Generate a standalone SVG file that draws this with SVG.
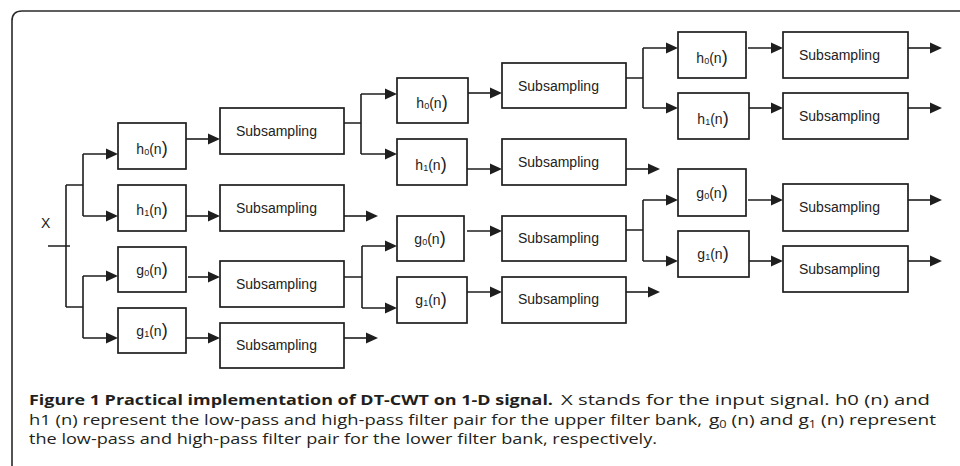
<svg xmlns="http://www.w3.org/2000/svg" width="960" height="466" viewBox="0 0 960 466">
<style>
.bg{fill:#ffffff}
.frame{fill:none;stroke:#2a2a2a;stroke-width:1.6}
.box{fill:#ffffff;stroke:#1e1e1e;stroke-width:1.7}
.ln{fill:none;stroke:#1e1e1e;stroke-width:1.6}
.arr{marker-end:url(#ah)}
.lbl{font-family:"Liberation Sans",Arial,sans-serif;font-size:14px;fill:#222222}
.flt{font-family:"Liberation Sans",Arial,sans-serif;font-size:14px;fill:#222222;text-anchor:middle}
.cap{font-family:"Open Sans","Noto Sans","Liberation Sans",sans-serif;font-size:15px;fill:#231f20}
.capb{font-family:"Open Sans","Noto Sans","Liberation Sans",sans-serif;font-size:15px;font-weight:700;fill:#231f20}
</style>
<defs>
<marker id="ah" markerUnits="userSpaceOnUse" markerWidth="12" markerHeight="11" refX="10" refY="5.5" orient="auto" overflow="visible">
<path d="M0,0 L12,5.5 L0,11 Z" fill="#1e1e1e"/>
</marker>
</defs>
<rect class="bg" x="0" y="0" width="960" height="466"/>
<path class="frame" d="M12,466 V21 Q12,11 22,11 H960"/>

<g id="connectors">
<path class="ln" d="M48,246 H70 M66,185 V307 M66,185 H83 M83,154 V216 M66,307 H83 M83,276 V338"/>
<path class="ln arr" d="M83,154 H116"/>
<path class="ln arr" d="M83,216 H116"/>
<path class="ln arr" d="M83,276 H116"/>
<path class="ln arr" d="M83,338 H116"/>
<path class="ln arr" d="M186,139 H218"/>
<path class="ln arr" d="M186,216 H218"/>
<path class="ln arr" d="M188,277 H218"/>
<path class="ln arr" d="M186,338 H218"/>
<path class="ln" d="M344,123 H361 M361,94 V154 M344,277 H362 M362,246 V308"/>
<path class="ln arr" d="M361,94 H395"/>
<path class="ln arr" d="M361,154 H395"/>
<path class="ln arr" d="M344,216 H376"/>
<path class="ln arr" d="M362,246 H395"/>
<path class="ln arr" d="M362,308 H395"/>
<path class="ln arr" d="M344,338 H376"/>
<path class="ln arr" d="M468,93 H500"/>
<path class="ln arr" d="M467,169 H500"/>
<path class="ln arr" d="M467,231 H500"/>
<path class="ln arr" d="M467,292 H500"/>
<path class="ln" d="M626,78 H643 M643,48 V108 M626,230 H643 M643,200 V261"/>
<path class="ln arr" d="M643,48 H676"/>
<path class="ln arr" d="M643,108 H676"/>
<path class="ln arr" d="M626,169 H658"/>
<path class="ln arr" d="M643,200 H676"/>
<path class="ln arr" d="M643,261 H676"/>
<path class="ln arr" d="M626,292 H658"/>
<path class="ln arr" d="M748,48 H781"/>
<path class="ln arr" d="M749,108 H781"/>
<path class="ln arr" d="M748,200 H781"/>
<path class="ln arr" d="M749,261 H781"/>
<path class="ln arr" d="M908,48 H940"/>
<path class="ln arr" d="M908,108 H940"/>
<path class="ln arr" d="M908,200 H940"/>
<path class="ln arr" d="M908,261 H940"/>
</g>

<g id="input-x"><text class="lbl" x="41" y="228">X</text></g>

<g id="s1-h0"><rect class="box" x="118" y="123" width="68" height="46"/><text class="flt" x="152" y="154">h<tspan font-size="9" dy="1">0</tspan><tspan dy="-1">(n</tspan><tspan font-size="18">)</tspan></text></g>
<g id="s1-h1"><rect class="box" x="118" y="185" width="68" height="46"/><text class="flt" x="152" y="215">h<tspan font-size="9" dy="1">1</tspan><tspan dy="-1">(n</tspan><tspan font-size="18">)</tspan></text></g>
<g id="s1-g0"><rect class="box" x="118" y="247" width="68" height="45"/><text class="flt" x="152" y="275">g<tspan font-size="9" dy="1">0</tspan><tspan dy="-1">(n</tspan><tspan font-size="18">)</tspan></text></g>
<g id="s1-g1"><rect class="box" x="118" y="308" width="68" height="45"/><text class="flt" x="152" y="336">g<tspan font-size="9" dy="1">1</tspan><tspan dy="-1">(n</tspan><tspan font-size="18">)</tspan></text></g>

<g id="s1-sub-a"><rect class="box" x="220" y="108" width="124" height="46"/><text class="lbl" x="236" y="136">Subsampling</text></g>
<g id="s1-sub-b"><rect class="box" x="220" y="185" width="124" height="46"/><text class="lbl" x="236" y="213">Subsampling</text></g>
<g id="s1-sub-c"><rect class="box" x="220" y="261" width="124" height="46"/><text class="lbl" x="236" y="289">Subsampling</text></g>
<g id="s1-sub-d"><rect class="box" x="220" y="323" width="124" height="45"/><text class="lbl" x="236" y="350">Subsampling</text></g>

<g id="s2-h0"><rect class="box" x="397" y="78" width="71" height="45"/><text class="flt" x="432" y="108">h<tspan font-size="9" dy="1">0</tspan><tspan dy="-1">(n</tspan><tspan font-size="18">)</tspan></text></g>
<g id="s2-h1"><rect class="box" x="397" y="139" width="70" height="46"/><text class="flt" x="431" y="170">h<tspan font-size="9" dy="1">1</tspan><tspan dy="-1">(n</tspan><tspan font-size="18">)</tspan></text></g>
<g id="s2-g0"><rect class="box" x="397" y="216" width="67" height="45"/><text class="flt" x="430" y="244">g<tspan font-size="9" dy="1">0</tspan><tspan dy="-1">(n</tspan><tspan font-size="18">)</tspan></text></g>
<g id="s2-g1"><rect class="box" x="397" y="277" width="70" height="46"/><text class="flt" x="431" y="305">g<tspan font-size="9" dy="1">1</tspan><tspan dy="-1">(n</tspan><tspan font-size="18">)</tspan></text></g>

<g id="s2-sub-a"><rect class="box" x="502" y="63" width="124" height="45"/><text class="lbl" x="518" y="91">Subsampling</text></g>
<g id="s2-sub-b"><rect class="box" x="502" y="139" width="124" height="46"/><text class="lbl" x="518" y="167">Subsampling</text></g>
<g id="s2-sub-c"><rect class="box" x="502" y="216" width="124" height="45"/><text class="lbl" x="518" y="243">Subsampling</text></g>
<g id="s2-sub-d"><rect class="box" x="502" y="277" width="124" height="46"/><text class="lbl" x="518" y="304">Subsampling</text></g>

<g id="s3-h0"><rect class="box" x="678" y="32" width="68" height="46"/><text class="flt" x="712" y="63">h<tspan font-size="9" dy="1">0</tspan><tspan dy="-1">(n</tspan><tspan font-size="18">)</tspan></text></g>
<g id="s3-h1"><rect class="box" x="678" y="93" width="71" height="46"/><text class="flt" x="713" y="124">h<tspan font-size="9" dy="1">1</tspan><tspan dy="-1">(n</tspan><tspan font-size="18">)</tspan></text></g>
<g id="s3-g0"><rect class="box" x="678" y="169" width="68" height="47"/><text class="flt" x="712" y="198">g<tspan font-size="9" dy="1">0</tspan><tspan dy="-1">(n</tspan><tspan font-size="18">)</tspan></text></g>
<g id="s3-g1"><rect class="box" x="678" y="231" width="71" height="46"/><text class="flt" x="713" y="259">g<tspan font-size="9" dy="1">1</tspan><tspan dy="-1">(n</tspan><tspan font-size="18">)</tspan></text></g>

<g id="s3-sub-a"><rect class="box" x="783" y="32" width="125" height="46"/><text class="lbl" x="799" y="60">Subsampling</text></g>
<g id="s3-sub-b"><rect class="box" x="783" y="93" width="125" height="46"/><text class="lbl" x="799" y="121">Subsampling</text></g>
<g id="s3-sub-c"><rect class="box" x="783" y="184" width="125" height="47"/><text class="lbl" x="799" y="212">Subsampling</text></g>
<g id="s3-sub-d"><rect class="box" x="783" y="246" width="125" height="46"/><text class="lbl" x="799" y="274">Subsampling</text></g>

<g id="caption">
<text class="capb" x="29" y="405" textLength="524" lengthAdjust="spacingAndGlyphs">Figure 1 Practical implementation of DT-CWT on 1-D signal.</text>
<text class="cap" x="561" y="405" textLength="369" lengthAdjust="spacingAndGlyphs">X stands for the input signal. h0 (n) and</text>
<text class="cap" x="29" y="425" textLength="673" lengthAdjust="spacingAndGlyphs">h1 (n) represent the low-pass and high-pass filter pair for the upper filter bank,</text>
<text class="cap" x="709" y="425" textLength="227" lengthAdjust="spacingAndGlyphs">g<tspan font-size="10" dy="3">0</tspan><tspan dy="-3"> (n) and g</tspan><tspan font-size="10" dy="3">1</tspan><tspan dy="-3"> (n) represent</tspan></text>
<text class="cap" x="29" y="444" textLength="628" lengthAdjust="spacingAndGlyphs">the low-pass and high-pass filter pair for the lower filter bank, respectively.</text>
</g>
</svg>
